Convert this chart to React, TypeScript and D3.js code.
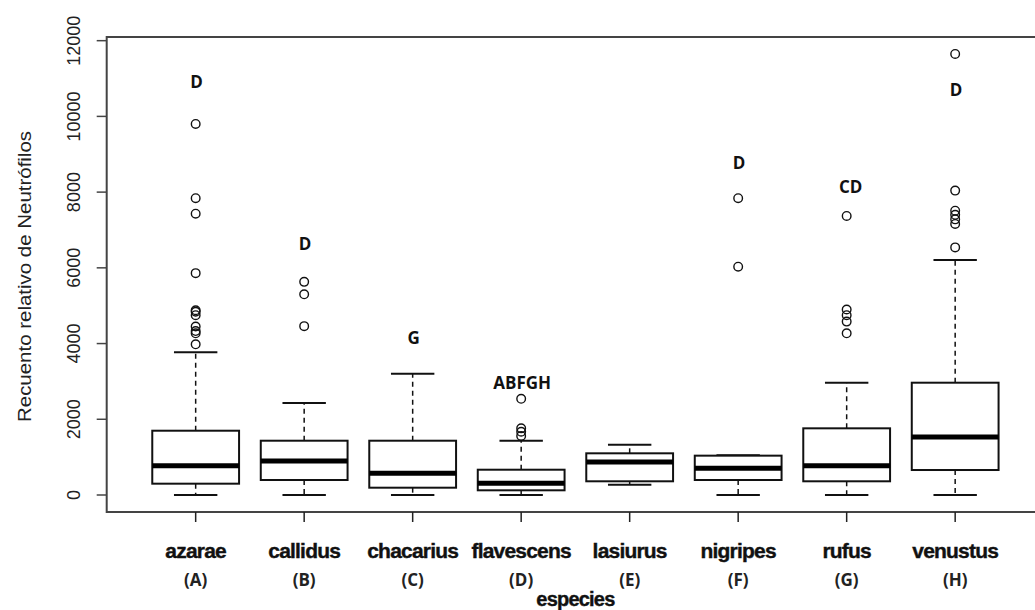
import React from "react";
import * as d3 from "d3";

// species on the x axis and their group letters
const species = ["azarae", "callidus", "chacarius", "flavescens", "lasiurus", "nigripes", "rufus", "venustus"];
const groupLetters = ["(A)", "(B)", "(C)", "(D)", "(E)", "(F)", "(G)", "(H)"];

// box statistics
const lowerWhisker = [0, 0, 0, 0, 273, 0, 0, 0];
const q1 = [299, 396, 193, 124, 362, 396, 362, 660];
const median = [774, 898, 573, 309, 872, 704, 774, 1532];
const q3 = [1698, 1434, 1434, 668, 1101, 1039, 1761, 2966];
const upperWhisker = [3769, 2430, 3204, 1434, 1329, 1050, 2966, 6207];

const outliers = [
    [9800, 7840, 7430, 5860, 4880, 4840, 4750, 4450, 4330, 4270, 3980],
    [5630, 5300, 4460],
    [],
    [2540, 1760, 1670, 1560],
    [],
    [7840, 6030],
    [7370, 4900, 4750, 4580, 4270],
    [11650, 8040, 7510, 7400, 7280, 7160, 6540],
];

// significance letters above each box (value = vertical position)
const sigLabels = ["D", "D", "G", "ABFGH", "", "D", "CD", "D"];
const sigValues = [10900, 6640, 4140, 2970, 0, 8780, 8130, 10700];

const yTicks = [0, 2000, 4000, 6000, 8000, 10000, 12000];

const App = () => {
    const width = 1035;
    const height = 610;
    const left = 106.7;
    const top = 37;
    const bottom = 512;

    const x = d3.scaleLinear().domain([0.18, 8.82]).range([left, left + 8.64 * 108.5]);
    const y = d3.scaleLinear().domain([-449, 12097]).range([bottom, top]);
    const right = x(8.82);

    const boxW = x(1.4) - x(1); // half of boxwex 0.8
    const capW = boxW / 2;

    return (
        <svg width={width} height={height} style={{ position: "absolute", left: 0, top: 0, background: "#fff" }}>
            {/* frame */}
            <rect x={left} y={top} width={right - left} height={bottom - top} fill="none" stroke="#444" strokeWidth={2} />

            {/* y axis */}
            {yTicks.map((t) => (
                <g key={t}>
                    <line x1={left - 10} x2={left} y1={y(t)} y2={y(t)} stroke="#444" strokeWidth={1.5} />
                    <text
                        transform={`translate(80, ${y(t)}) rotate(-90)`}
                        textAnchor="middle"
                        fontFamily="Liberation Sans, Arial, sans-serif"
                        fontSize={18}
                        fill="#222"
                    >
                        {t}
                    </text>
                </g>
            ))}
            <text
                transform={`translate(31, ${(top + bottom) / 2 + 2}) rotate(-90)`}
                textAnchor="middle"
                fontFamily="Liberation Sans, Arial, sans-serif"
                fontSize={19}
                textLength={291}
                lengthAdjust="spacingAndGlyphs"
                fill="#222"
            >
                Recuento relativo de Neutrófilos
            </text>

            {/* x axis */}
            {species.map((s, i) => {
                const cx = x(i + 1);
                return (
                    <g key={s}>
                        <line x1={cx} x2={cx} y1={bottom} y2={bottom + 10} stroke="#222" strokeWidth={1.5} />
                        <text
                            x={cx}
                            y={558}
                            textAnchor="middle"
                            fontFamily="Liberation Sans, Arial, sans-serif"
                            fontWeight="bold"
                            fontSize={21}
                            letterSpacing={-0.8}
                            stroke="#111"
                            strokeWidth={0.4}
                            fill="#111"
                        >
                            {s}
                        </text>
                        <text
                            x={cx}
                            y={586}
                            textAnchor="middle"
                            fontFamily="Open Sans, Liberation Sans, sans-serif"
                            fontWeight="bold"
                            fontSize={17}
                            fill="#222"
                        >
                            {groupLetters[i]}
                        </text>
                    </g>
                );
            })}
            <text
                x={(left + right) / 2}
                y={606}
                textAnchor="middle"
                fontFamily="Liberation Sans, Arial, sans-serif"
                fontWeight="bold"
                fontSize={20}
                letterSpacing={-0.8}
                stroke="#111"
                strokeWidth={0.4}
                fill="#111"
            >
                especies
            </text>

            {/* boxes */}
            {species.map((s, i) => {
                const cx = x(i + 1);
                return (
                    <g key={"box" + s}>
                        <line x1={cx} x2={cx} y1={y(q3[i])} y2={y(upperWhisker[i])} stroke="#111" strokeWidth={1.5} strokeDasharray="5,4" />
                        <line x1={cx} x2={cx} y1={y(q1[i])} y2={y(lowerWhisker[i])} stroke="#111" strokeWidth={1.5} strokeDasharray="5,4" />
                        <line x1={cx - capW} x2={cx + capW} y1={y(upperWhisker[i])} y2={y(upperWhisker[i])} stroke="#111" strokeWidth={2} />
                        <line x1={cx - capW} x2={cx + capW} y1={y(lowerWhisker[i])} y2={y(lowerWhisker[i])} stroke="#111" strokeWidth={2} />
                        <rect
                            x={cx - boxW}
                            y={y(q3[i])}
                            width={boxW * 2}
                            height={y(q1[i]) - y(q3[i])}
                            fill="#fff"
                            stroke="#111"
                            strokeWidth={2}
                        />
                        <line x1={cx - boxW} x2={cx + boxW} y1={y(median[i])} y2={y(median[i])} stroke="#000" strokeWidth={5} />
                        {outliers[i].map((v, j) => (
                            <circle key={j} cx={cx} cy={y(v)} r={4.3} fill="none" stroke="#111" strokeWidth={1.4} />
                        ))}
                        {sigLabels[i] && (
                            <text
                                x={cx + (sigLabels[i].length > 1 && sigLabels[i].length < 3 ? 4 : 1)}
                                y={y(sigValues[i])}
                                dy="0.36em"
                                textAnchor="middle"
                                fontFamily="Open Sans, Liberation Sans, sans-serif"
                                fontWeight="bold"
                                fontSize={17}
                                fill="#111"
                            >
                                {sigLabels[i]}
                            </text>
                        )}
                    </g>
                );
            })}
        </svg>
    );
};

export default App;
